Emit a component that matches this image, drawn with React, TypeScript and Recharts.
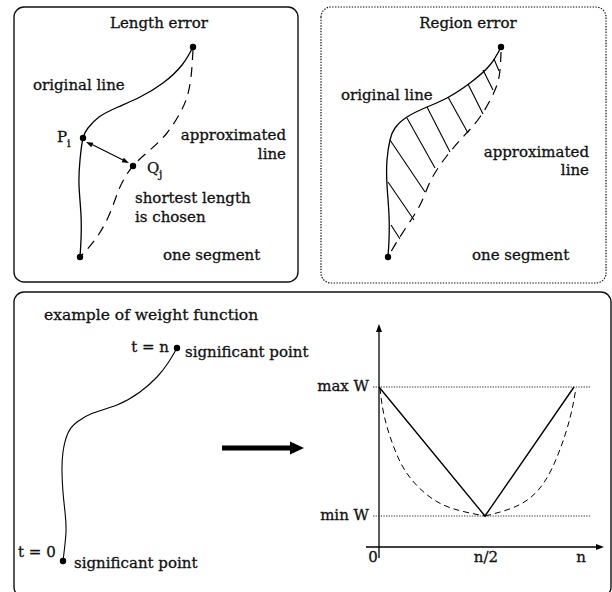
import React from 'react';
import { ComposedChart, Line, Scatter, XAxis, YAxis, ReferenceLine, ReferenceArea } from 'recharts';

const FONT = '"DejaVu Serif", serif';

// ---- panel frames ----
const frames = [
  { id: 'length', x1: 14, x2: 298, y1: 7, y2: 282, dash: undefined as string | undefined },
  { id: 'region', x1: 321, x2: 606, y1: 7, y2: 283, dash: '1.4 1.4' },
  { id: 'weight', x1: 14, x2: 611, y1: 292, y2: 597, dash: undefined as string | undefined },
];

// ---- curves (diagram coordinates) ----
const lengthOriginal = [
  { x: 193, y: 47 }, { x: 182, y: 65 }, { x: 163, y: 83 }, { x: 140, y: 97 }, { x: 118, y: 107 },
  { x: 99, y: 117 }, { x: 88, y: 128 }, { x: 83, y: 138 }, { x: 80, y: 160 }, { x: 79, y: 185 },
  { x: 81, y: 215 }, { x: 81, y: 240 }, { x: 80, y: 257 },
];
const lengthApprox = [
  { x: 193, y: 50 }, { x: 191, y: 77 }, { x: 187, y: 97 }, { x: 180, y: 113 }, { x: 167, y: 133 },
  { x: 150, y: 150 }, { x: 133, y: 166 }, { x: 120, y: 187 }, { x: 110, y: 213 }, { x: 97, y: 237 },
  { x: 82, y: 255 },
];
const regionOriginal = [
  { x: 501, y: 47 }, { x: 490, y: 65 }, { x: 470, y: 83 }, { x: 447, y: 98 }, { x: 427, y: 107 },
  { x: 407, y: 117 }, { x: 395, y: 128 }, { x: 390, y: 140 }, { x: 387, y: 160 }, { x: 387, y: 185 },
  { x: 389, y: 215 }, { x: 389, y: 240 }, { x: 388, y: 257 },
];
const regionApprox = [
  { x: 501, y: 52 }, { x: 500, y: 70 }, { x: 495, y: 90 }, { x: 480, y: 117 }, { x: 463, y: 137 },
  { x: 446, y: 157 }, { x: 431, y: 180 }, { x: 421, y: 203 }, { x: 409, y: 223 }, { x: 398, y: 240 },
  { x: 389, y: 255 },
];
const hatches = [
  [494, 59, 499, 71], [483, 70, 493, 90], [468, 84, 483, 114], [448, 97, 468, 133],
  [427, 107, 450, 152], [407, 118, 435, 168], [390, 140, 425, 192], [388, 182, 414, 220],
  [391, 225, 400, 239],
];
const weightCurve = [
  { x: 177, y: 348 }, { x: 168, y: 363 }, { x: 157, y: 377 }, { x: 140, y: 392 }, { x: 117, y: 405 },
  { x: 93, y: 413 }, { x: 77, y: 422 }, { x: 68, y: 433 }, { x: 63, y: 452 }, { x: 62, y: 472 },
  { x: 63, y: 492 }, { x: 65, y: 512 }, { x: 66, y: 532 }, { x: 63, y: 561 },
];
const weightLinear = [{ x: 379, y: 387 }, { x: 485, y: 516 }, { x: 574, y: 387 }];
const weightDashedLeft = [
  { x: 380, y: 388 }, { x: 384, y: 415 }, { x: 393, y: 445 }, { x: 406, y: 472 }, { x: 426, y: 494 },
  { x: 451, y: 508 }, { x: 485, y: 516 },
];
const weightDashedRight = [
  { x: 485, y: 516 }, { x: 519, y: 505 }, { x: 543, y: 484 }, { x: 559, y: 452 }, { x: 570, y: 418 },
  { x: 576, y: 388 },
];

// ---- straight segments ----
const solidSegments = [
  [379, 558, 379, 330, 1.3], // y axis
  [366, 547, 598, 547, 1.3], // x axis
  [89, 143, 125, 161, 1.1], // shortest length arrow shaft
  [222, 448, 292, 448, 5], // big arrow shaft
];
const dottedSegments = [
  [373, 387, 591, 387],
  [373, 516, 591, 516],
];

// ---- points & arrowheads ----
const dots = [
  { x: 193, y: 47 }, { x: 80, y: 257 }, { x: 83, y: 138 }, { x: 133, y: 166 },
  { x: 501, y: 47 }, { x: 388, y: 257 },
  { x: 177, y: 348 }, { x: 63, y: 561 },
];
const arrowHeads = [
  { x: 379, y: 324, angle: -90, len: 8, w: 6 },
  { x: 604, y: 547, angle: 0, len: 8, w: 6 },
  { x: 129, y: 163, angle: 26, len: 7, w: 5 },
  { x: 86, y: 142, angle: 206, len: 7, w: 5 },
  { x: 304, y: 448, angle: 0, len: 14, w: 13 },
];

// ---- texts ----
const labels = [
  { x: 159, y: 28, text: 'Length error', anchor: 'middle', size: 15 },
  { x: 33, y: 90, text: 'original line', anchor: 'start', size: 15 },
  { x: 57, y: 142, text: 'P', anchor: 'start', size: 15 },
  { x: 67, y: 147, text: 'i', anchor: 'start', size: 11 },
  { x: 286, y: 140, text: 'approximated', anchor: 'end', size: 15 },
  { x: 286, y: 159, text: 'line', anchor: 'end', size: 15 },
  { x: 147, y: 173, text: 'Q', anchor: 'start', size: 15 },
  { x: 159, y: 178, text: 'j', anchor: 'start', size: 11 },
  { x: 135, y: 203, text: 'shortest length', anchor: 'start', size: 15 },
  { x: 135, y: 222, text: 'is chosen', anchor: 'start', size: 15 },
  { x: 163, y: 260, text: 'one segment', anchor: 'start', size: 15 },
  { x: 468, y: 28, text: 'Region error', anchor: 'middle', size: 15 },
  { x: 341, y: 100, text: 'original line', anchor: 'start', size: 15 },
  { x: 589, y: 157, text: 'approximated', anchor: 'end', size: 15 },
  { x: 589, y: 175, text: 'line', anchor: 'end', size: 15 },
  { x: 472, y: 260, text: 'one segment', anchor: 'start', size: 15 },
  { x: 44, y: 320, text: 'example of weight function', anchor: 'start', size: 15.5 },
  { x: 169, y: 352, text: 't = n', anchor: 'end', size: 15 },
  { x: 185, y: 357, text: 'significant point', anchor: 'start', size: 15 },
  { x: 18, y: 557, text: 't = 0', anchor: 'start', size: 15 },
  { x: 74, y: 568, text: 'significant point', anchor: 'start', size: 15 },
  { x: 369, y: 391, text: 'max W', anchor: 'end', size: 15 },
  { x: 369, y: 520, text: 'min W', anchor: 'end', size: 15 },
  { x: 373, y: 562, text: '0', anchor: 'middle', size: 15 },
  { x: 486, y: 562, text: 'n/2', anchor: 'middle', size: 15 },
  { x: 581, y: 562, text: 'n', anchor: 'middle', size: 15 },
];

const TextShape = (props: any) => {
  const { cx, cy, payload } = props;
  return (
    <text
      x={cx}
      y={cy}
      textAnchor={payload.anchor}
      fontSize={payload.size}
      fontFamily={FONT}
      fill="#111"
      stroke="#111"
      strokeWidth={0.3}
    >
      {payload.text}
    </text>
  );
};

const DotShape = (props: any) => <circle cx={props.cx} cy={props.cy} r={3.2} fill="#000" />;

const HeadShape = (props: any) => {
  const { cx, cy, payload } = props;
  const { len, w, angle } = payload;
  return (
    <polygon
      points={`0,0 ${-len},${-w / 2} ${-len},${w / 2}`}
      transform={`translate(${cx},${cy}) rotate(${angle})`}
      fill="#000"
    />
  );
};

const seg = (a: number[]) => [{ x: a[0], y: a[1] }, { x: a[2], y: a[3] }];

export default function App() {
  return (
    <div style={{ position: 'absolute', left: 0, top: 0, width: 612, height: 592, background: '#fff' }}>
      <ComposedChart width={612} height={592} margin={{ top: 0, right: 0, bottom: 0, left: 0 }}>
        <XAxis type="number" dataKey="x" domain={[0, 612]} hide />
        <YAxis type="number" dataKey="y" domain={[0, 592]} reversed hide />
        {frames.map((f) => (
          <ReferenceArea
            key={f.id}
            x1={f.x1}
            x2={f.x2}
            y1={f.y1}
            y2={f.y2}
            ifOverflow="visible"
            fill="none"
            fillOpacity={0}
            stroke="#111"
            strokeWidth={f.dash ? 1.2 : 1.4}
            strokeDasharray={f.dash}
            radius={10}
          />
        ))}
        {hatches.map((h, i) => (
          <ReferenceLine key={'h' + i} segment={seg(h)} stroke="#000" strokeWidth={1.1} ifOverflow="visible" />
        ))}
        {solidSegments.map((s, i) => (
          <ReferenceLine key={'s' + i} segment={seg(s)} stroke="#000" strokeWidth={s[4]} ifOverflow="visible" />
        ))}
        {dottedSegments.map((s, i) => (
          <ReferenceLine key={'d' + i} segment={seg(s)} stroke="#333" strokeWidth={1} strokeDasharray="1.3 1.3" ifOverflow="visible" />
        ))}
        <Line data={lengthOriginal} dataKey="y" type="natural" stroke="#000" strokeWidth={1.3} dot={false} isAnimationActive={false} />
        <Line data={lengthApprox} dataKey="y" type="natural" stroke="#000" strokeWidth={1.2} strokeDasharray="10 7" dot={false} isAnimationActive={false} />
        <Line data={regionOriginal} dataKey="y" type="natural" stroke="#000" strokeWidth={1.3} dot={false} isAnimationActive={false} />
        <Line data={regionApprox} dataKey="y" type="natural" stroke="#000" strokeWidth={1.2} strokeDasharray="10 7" dot={false} isAnimationActive={false} />
        <Line data={weightCurve} dataKey="y" type="natural" stroke="#000" strokeWidth={1.1} dot={false} isAnimationActive={false} />
        <Line data={weightLinear} dataKey="y" type="linear" stroke="#000" strokeWidth={1.4} dot={false} isAnimationActive={false} />
        <Line data={weightDashedLeft} dataKey="y" type="natural" stroke="#000" strokeWidth={1} strokeDasharray="6 4" dot={false} isAnimationActive={false} />
        <Line data={weightDashedRight} dataKey="y" type="natural" stroke="#000" strokeWidth={1} strokeDasharray="6 4" dot={false} isAnimationActive={false} />
        <Scatter data={dots} dataKey="y" shape={DotShape} isAnimationActive={false} />
        <Scatter data={arrowHeads} dataKey="y" shape={HeadShape} isAnimationActive={false} />
        <Scatter data={labels} dataKey="y" shape={TextShape} isAnimationActive={false} />
      </ComposedChart>
    </div>
  );
}
